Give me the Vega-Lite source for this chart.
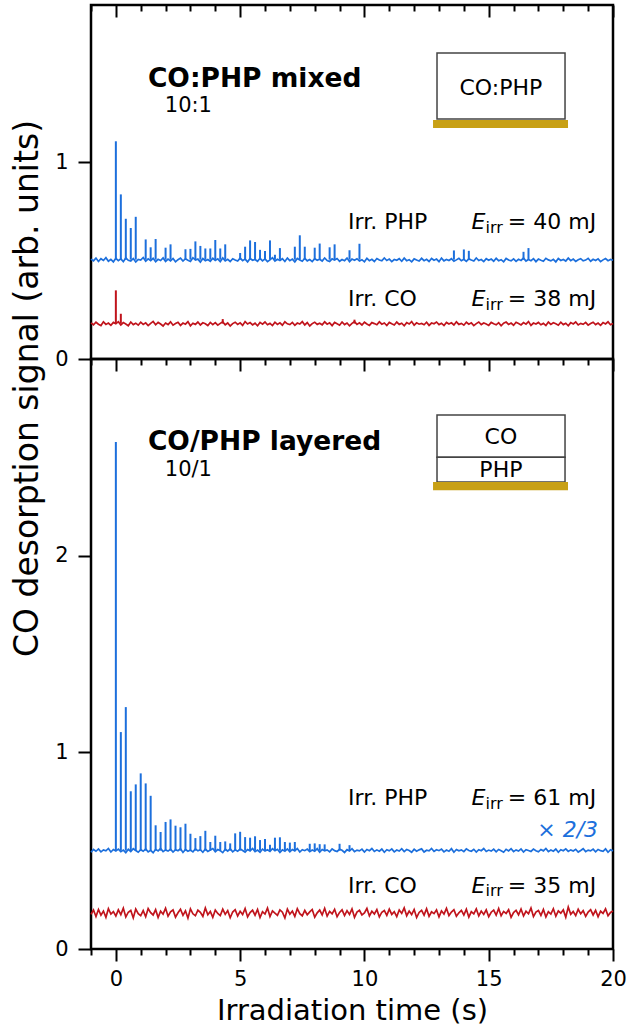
{
"$schema": "https://vega.github.io/schema/vega-lite/v6.json",
"background": "white",
"padding": {"left": 10, "top": 2, "right": 14, "bottom": 2},
"bounds": "flush",
"spacing": 0,
"config": {
  "font": "DejaVu Sans",
  "view": {"stroke": "black", "strokeWidth": 2.5},
  "axis": {"domain": false, "grid": false, "tickColor": "black", "tickWidth": 2, "labelColor": "black", "labelFontSize": 21, "labelFont": "DejaVu Sans", "titleFont": "DejaVu Sans", "titleColor": "black", "titleFontWeight": "normal", "labelOverlap": false, "labelFlush": false}
},
"datasets": {
"noise": [
{"t":-1.0,"a":0.508,"b":0.184,"c":0.492,"d":0.176},
{"t":-0.9,"a":0.499,"b":0.174,"c":0.506,"d":0.198},
{"t":-0.8,"a":0.513,"b":0.187,"c":0.497,"d":0.165},
{"t":-0.7,"a":0.496,"b":0.177,"c":0.509,"d":0.201},
{"t":-0.6,"a":0.510,"b":0.170,"c":0.494,"d":0.172},
{"t":-0.5,"a":0.501,"b":0.189,"c":0.504,"d":0.193},
{"t":-0.4,"a":0.515,"b":0.176,"c":0.499,"d":0.161},
{"t":-0.3,"a":0.497,"b":0.183,"c":0.511,"d":0.205},
{"t":-0.2,"a":0.507,"b":0.171,"c":0.493,"d":0.178},
{"t":-0.1,"a":0.494,"b":0.186,"c":0.506,"d":0.190},
{"t":0.0,"a":0.512,"b":0.179,"c":0.498,"d":0.168},
{"t":0.1,"a":0.500,"b":0.190,"c":0.508,"d":0.199},
{"t":0.2,"a":0.509,"b":0.173,"c":0.495,"d":0.175},
{"t":0.3,"a":0.495,"b":0.185,"c":0.503,"d":0.208},
{"t":0.4,"a":0.514,"b":0.178,"c":0.490,"d":0.163},
{"t":0.5,"a":0.502,"b":0.169,"c":0.507,"d":0.187},
{"t":0.6,"a":0.498,"b":0.188,"c":0.496,"d":0.196},
{"t":0.7,"a":0.511,"b":0.175,"c":0.510,"d":0.158},
{"t":0.8,"a":0.493,"b":0.182,"c":0.501,"d":0.203},
{"t":0.9,"a":0.506,"b":0.172,"c":0.492,"d":0.180},
{"t":1.0,"a":0.503,"b":0.187,"c":0.505,"d":0.170},
{"t":1.1,"a":0.516,"b":0.176,"c":0.497,"d":0.195},
{"t":1.2,"a":0.497,"b":0.184,"c":0.509,"d":0.164},
{"t":1.3,"a":0.509,"b":0.170,"c":0.494,"d":0.206},
{"t":1.4,"a":0.500,"b":0.181,"c":0.502,"d":0.185},
{"t":1.5,"a":0.512,"b":0.191,"c":0.490,"d":0.173},
{"t":1.6,"a":0.495,"b":0.174,"c":0.507,"d":0.200},
{"t":1.7,"a":0.507,"b":0.186,"c":0.499,"d":0.160},
{"t":1.8,"a":0.501,"b":0.178,"c":0.511,"d":0.192},
{"t":1.9,"a":0.514,"b":0.168,"c":0.495,"d":0.177},
{"t":2.0,"a":0.496,"b":0.183,"c":0.504,"d":0.207},
{"t":2.1,"a":0.508,"b":0.175,"c":0.498,"d":0.167},
{"t":2.2,"a":0.499,"b":0.189,"c":0.508,"d":0.189},
{"t":2.3,"a":0.511,"b":0.172,"c":0.493,"d":0.199},
{"t":2.4,"a":0.494,"b":0.180,"c":0.505,"d":0.162},
{"t":2.5,"a":0.505,"b":0.187,"c":0.500,"d":0.184},
{"t":2.6,"a":0.513,"b":0.171,"c":0.510,"d":0.202},
{"t":2.7,"a":0.498,"b":0.183,"c":0.491,"d":0.171},
{"t":2.8,"a":0.510,"b":0.177,"c":0.506,"d":0.194},
{"t":2.9,"a":0.502,"b":0.190,"c":0.497,"d":0.157},
{"t":3.0,"a":0.496,"b":0.169,"c":0.503,"d":0.204},
{"t":3.1,"a":0.515,"b":0.182,"c":0.494,"d":0.179},
{"t":3.2,"a":0.503,"b":0.176,"c":0.509,"d":0.169},
{"t":3.3,"a":0.508,"b":0.188,"c":0.499,"d":0.197},
{"t":3.4,"a":0.493,"b":0.173,"c":0.505,"d":0.186},
{"t":3.5,"a":0.511,"b":0.184,"c":0.492,"d":0.166},
{"t":3.6,"a":0.500,"b":0.179,"c":0.508,"d":0.209},
{"t":3.7,"a":0.506,"b":0.170,"c":0.496,"d":0.174},
{"t":3.8,"a":0.497,"b":0.186,"c":0.503,"d":0.191},
{"t":3.9,"a":0.512,"b":0.175,"c":0.511,"d":0.161},
{"t":4.0,"a":0.501,"b":0.185,"c":0.495,"d":0.198},
{"t":4.1,"a":0.509,"b":0.172,"c":0.506,"d":0.181},
{"t":4.2,"a":0.495,"b":0.181,"c":0.500,"d":0.170},
{"t":4.3,"a":0.514,"b":0.189,"c":0.490,"d":0.203},
{"t":4.4,"a":0.499,"b":0.174,"c":0.507,"d":0.176},
{"t":4.5,"a":0.507,"b":0.183,"c":0.498,"d":0.195},
{"t":4.6,"a":0.496,"b":0.168,"c":0.510,"d":0.159},
{"t":4.7,"a":0.510,"b":0.180,"c":0.494,"d":0.188},
{"t":4.8,"a":0.503,"b":0.187,"c":0.504,"d":0.200},
{"t":4.9,"a":0.498,"b":0.176,"c":0.497,"d":0.168},
{"t":5.0,"a":0.513,"b":0.184,"c":0.509,"d":0.192},
{"t":5.1,"a":0.500,"b":0.171,"c":0.501,"d":0.175},
{"t":5.2,"a":0.508,"b":0.190,"c":0.493,"d":0.206},
{"t":5.3,"a":0.494,"b":0.178,"c":0.506,"d":0.163},
{"t":5.4,"a":0.511,"b":0.185,"c":0.499,"d":0.185},
{"t":5.5,"a":0.502,"b":0.173,"c":0.511,"d":0.197},
{"t":5.6,"a":0.506,"b":0.182,"c":0.495,"d":0.172},
{"t":5.7,"a":0.497,"b":0.169,"c":0.503,"d":0.201},
{"t":5.8,"a":0.512,"b":0.186,"c":0.492,"d":0.160},
{"t":5.9,"a":0.499,"b":0.177,"c":0.508,"d":0.190},
{"t":6.0,"a":0.509,"b":0.188,"c":0.498,"d":0.178},
{"t":6.1,"a":0.495,"b":0.174,"c":0.505,"d":0.208},
{"t":6.2,"a":0.504,"b":0.181,"c":0.496,"d":0.165},
{"t":6.3,"a":0.515,"b":0.170,"c":0.510,"d":0.194},
{"t":6.4,"a":0.498,"b":0.187,"c":0.500,"d":0.182},
{"t":6.5,"a":0.507,"b":0.176,"c":0.507,"d":0.171},
{"t":6.6,"a":0.501,"b":0.184,"c":0.491,"d":0.199},
{"t":6.7,"a":0.510,"b":0.172,"c":0.504,"d":0.187},
{"t":6.8,"a":0.496,"b":0.189,"c":0.497,"d":0.158},
{"t":6.9,"a":0.513,"b":0.179,"c":0.509,"d":0.203},
{"t":7.0,"a":0.500,"b":0.175,"c":0.494,"d":0.177},
{"t":7.1,"a":0.508,"b":0.186,"c":0.506,"d":0.193},
{"t":7.2,"a":0.494,"b":0.171,"c":0.499,"d":0.166},
{"t":7.3,"a":0.511,"b":0.183,"c":0.511,"d":0.205},
{"t":7.4,"a":0.503,"b":0.178,"c":0.493,"d":0.180},
{"t":7.5,"a":0.497,"b":0.190,"c":0.505,"d":0.169},
{"t":7.6,"a":0.512,"b":0.173,"c":0.500,"d":0.196},
{"t":7.7,"a":0.499,"b":0.185,"c":0.508,"d":0.174},
{"t":7.8,"a":0.506,"b":0.168,"c":0.495,"d":0.189},
{"t":7.9,"a":0.495,"b":0.180,"c":0.503,"d":0.201},
{"t":8.0,"a":0.510,"b":0.187,"c":0.497,"d":0.162},
{"t":8.1,"a":0.502,"b":0.176,"c":0.510,"d":0.184},
{"t":8.2,"a":0.507,"b":0.182,"c":0.492,"d":0.198},
{"t":8.3,"a":0.498,"b":0.174,"c":0.506,"d":0.173},
{"t":8.4,"a":0.514,"b":0.189,"c":0.499,"d":0.207},
{"t":8.5,"a":0.501,"b":0.177,"c":0.504,"d":0.167},
{"t":8.6,"a":0.496,"b":0.184,"c":0.494,"d":0.191},
{"t":8.7,"a":0.509,"b":0.170,"c":0.509,"d":0.179},
{"t":8.8,"a":0.503,"b":0.186,"c":0.500,"d":0.202},
{"t":8.9,"a":0.511,"b":0.179,"c":0.496,"d":0.164},
{"t":9.0,"a":0.497,"b":0.172,"c":0.507,"d":0.186},
{"t":9.1,"a":0.506,"b":0.188,"c":0.502,"d":0.199},
{"t":9.2,"a":0.500,"b":0.175,"c":0.491,"d":0.170},
{"t":9.3,"a":0.513,"b":0.183,"c":0.505,"d":0.195},
{"t":9.4,"a":0.495,"b":0.169,"c":0.498,"d":0.176},
{"t":9.5,"a":0.508,"b":0.181,"c":0.510,"d":0.204},
{"t":9.6,"a":0.502,"b":0.190,"c":0.495,"d":0.161},
{"t":9.7,"a":0.510,"b":0.176,"c":0.503,"d":0.188},
{"t":9.8,"a":0.498,"b":0.184,"c":0.499,"d":0.197},
{"t":9.9,"a":0.505,"b":0.173,"c":0.508,"d":0.173},
{"t":10.0,"a":0.494,"b":0.187,"c":0.493,"d":0.183},
{"t":10.1,"a":0.512,"b":0.178,"c":0.506,"d":0.206},
{"t":10.2,"a":0.500,"b":0.171,"c":0.500,"d":0.168},
{"t":10.3,"a":0.507,"b":0.185,"c":0.511,"d":0.192},
{"t":10.4,"a":0.496,"b":0.180,"c":0.496,"d":0.178},
{"t":10.5,"a":0.511,"b":0.174,"c":0.504,"d":0.200},
{"t":10.6,"a":0.503,"b":0.189,"c":0.497,"d":0.163},
{"t":10.7,"a":0.499,"b":0.177,"c":0.508,"d":0.187},
{"t":10.8,"a":0.514,"b":0.183,"c":0.492,"d":0.196},
{"t":10.9,"a":0.501,"b":0.170,"c":0.505,"d":0.171},
{"t":11.0,"a":0.508,"b":0.186,"c":0.499,"d":0.203},
{"t":11.1,"a":0.495,"b":0.179,"c":0.509,"d":0.176},
{"t":11.2,"a":0.506,"b":0.173,"c":0.494,"d":0.190},
{"t":11.3,"a":0.502,"b":0.188,"c":0.503,"d":0.165},
{"t":11.4,"a":0.510,"b":0.176,"c":0.498,"d":0.198},
{"t":11.5,"a":0.497,"b":0.182,"c":0.510,"d":0.181},
{"t":11.6,"a":0.513,"b":0.169,"c":0.495,"d":0.209},
{"t":11.7,"a":0.500,"b":0.185,"c":0.506,"d":0.169},
{"t":11.8,"a":0.505,"b":0.178,"c":0.501,"d":0.193},
{"t":11.9,"a":0.494,"b":0.190,"c":0.492,"d":0.175},
{"t":12.0,"a":0.509,"b":0.172,"c":0.507,"d":0.201},
{"t":12.1,"a":0.503,"b":0.184,"c":0.497,"d":0.160},
{"t":12.2,"a":0.498,"b":0.177,"c":0.504,"d":0.186},
{"t":12.3,"a":0.512,"b":0.181,"c":0.509,"d":0.197},
{"t":12.4,"a":0.500,"b":0.174,"c":0.493,"d":0.172},
{"t":12.5,"a":0.507,"b":0.187,"c":0.502,"d":0.205},
{"t":12.6,"a":0.496,"b":0.171,"c":0.499,"d":0.166},
{"t":12.7,"a":0.511,"b":0.183,"c":0.511,"d":0.189},
{"t":12.8,"a":0.502,"b":0.179,"c":0.496,"d":0.180},
{"t":12.9,"a":0.508,"b":0.188,"c":0.505,"d":0.199},
{"t":13.0,"a":0.495,"b":0.175,"c":0.500,"d":0.163},
{"t":13.1,"a":0.513,"b":0.182,"c":0.508,"d":0.194},
{"t":13.2,"a":0.499,"b":0.170,"c":0.494,"d":0.178},
{"t":13.3,"a":0.506,"b":0.186,"c":0.503,"d":0.207},
{"t":13.4,"a":0.501,"b":0.178,"c":0.497,"d":0.170},
{"t":13.5,"a":0.510,"b":0.184,"c":0.510,"d":0.188},
{"t":13.6,"a":0.497,"b":0.173,"c":0.492,"d":0.200},
{"t":13.7,"a":0.504,"b":0.189,"c":0.506,"d":0.167},
{"t":13.8,"a":0.512,"b":0.176,"c":0.499,"d":0.184},
{"t":13.9,"a":0.500,"b":0.181,"c":0.504,"d":0.196},
{"t":14.0,"a":0.507,"b":0.172,"c":0.495,"d":0.173},
{"t":14.1,"a":0.496,"b":0.187,"c":0.509,"d":0.202},
{"t":14.2,"a":0.509,"b":0.177,"c":0.501,"d":0.162},
{"t":14.3,"a":0.503,"b":0.184,"c":0.497,"d":0.190},
{"t":14.4,"a":0.498,"b":0.170,"c":0.507,"d":0.179},
{"t":14.5,"a":0.514,"b":0.180,"c":0.493,"d":0.204},
{"t":14.6,"a":0.501,"b":0.188,"c":0.505,"d":0.168},
{"t":14.7,"a":0.506,"b":0.175,"c":0.500,"d":0.193},
{"t":14.8,"a":0.495,"b":0.183,"c":0.511,"d":0.176},
{"t":14.9,"a":0.510,"b":0.178,"c":0.496,"d":0.199},
{"t":15.0,"a":0.502,"b":0.171,"c":0.503,"d":0.164},
{"t":15.1,"a":0.508,"b":0.186,"c":0.498,"d":0.187},
{"t":15.2,"a":0.497,"b":0.179,"c":0.508,"d":0.198},
{"t":15.3,"a":0.512,"b":0.174,"c":0.494,"d":0.172},
{"t":15.4,"a":0.500,"b":0.185,"c":0.506,"d":0.206},
{"t":15.5,"a":0.505,"b":0.169,"c":0.500,"d":0.169},
{"t":15.6,"a":0.494,"b":0.182,"c":0.492,"d":0.191},
{"t":15.7,"a":0.511,"b":0.188,"c":0.507,"d":0.181},
{"t":15.8,"a":0.503,"b":0.176,"c":0.499,"d":0.200},
{"t":15.9,"a":0.499,"b":0.183,"c":0.510,"d":0.161},
{"t":16.0,"a":0.509,"b":0.172,"c":0.495,"d":0.185},
{"t":16.1,"a":0.496,"b":0.187,"c":0.504,"d":0.197},
{"t":16.2,"a":0.507,"b":0.180,"c":0.498,"d":0.174},
{"t":16.3,"a":0.501,"b":0.173,"c":0.509,"d":0.203},
{"t":16.4,"a":0.513,"b":0.185,"c":0.493,"d":0.168},
{"t":16.5,"a":0.498,"b":0.177,"c":0.505,"d":0.192},
{"t":16.6,"a":0.506,"b":0.190,"c":0.501,"d":0.179},
{"t":16.7,"a":0.500,"b":0.171,"c":0.496,"d":0.208},
{"t":16.8,"a":0.510,"b":0.183,"c":0.508,"d":0.165},
{"t":16.9,"a":0.495,"b":0.178,"c":0.500,"d":0.188},
{"t":17.0,"a":0.508,"b":0.186,"c":0.494,"d":0.196},
{"t":17.1,"a":0.502,"b":0.174,"c":0.506,"d":0.171},
{"t":17.2,"a":0.497,"b":0.181,"c":0.499,"d":0.201},
{"t":17.3,"a":0.512,"b":0.170,"c":0.511,"d":0.163},
{"t":17.4,"a":0.504,"b":0.188,"c":0.495,"d":0.190},
{"t":17.5,"a":0.499,"b":0.176,"c":0.503,"d":0.178},
{"t":17.6,"a":0.507,"b":0.184,"c":0.497,"d":0.205},
{"t":17.7,"a":0.494,"b":0.179,"c":0.508,"d":0.167},
{"t":17.8,"a":0.511,"b":0.172,"c":0.492,"d":0.194},
{"t":17.9,"a":0.501,"b":0.187,"c":0.505,"d":0.182},
{"t":18.0,"a":0.506,"b":0.175,"c":0.500,"d":0.199},
{"t":18.1,"a":0.498,"b":0.182,"c":0.509,"d":0.162},
{"t":18.2,"a":0.513,"b":0.169,"c":0.496,"d":0.213},
{"t":18.3,"a":0.500,"b":0.185,"c":0.504,"d":0.176},
{"t":18.4,"a":0.508,"b":0.178,"c":0.498,"d":0.191},
{"t":18.5,"a":0.496,"b":0.188,"c":0.507,"d":0.170},
{"t":18.6,"a":0.505,"b":0.173,"c":0.493,"d":0.202},
{"t":18.7,"a":0.510,"b":0.181,"c":0.501,"d":0.179},
{"t":18.8,"a":0.499,"b":0.176,"c":0.510,"d":0.195},
{"t":18.9,"a":0.503,"b":0.186,"c":0.495,"d":0.166},
{"t":19.0,"a":0.512,"b":0.172,"c":0.503,"d":0.188},
{"t":19.1,"a":0.497,"b":0.180,"c":0.499,"d":0.200},
{"t":19.2,"a":0.507,"b":0.187,"c":0.508,"d":0.173},
{"t":19.3,"a":0.501,"b":0.175,"c":0.494,"d":0.197},
{"t":19.4,"a":0.509,"b":0.183,"c":0.506,"d":0.164},
{"t":19.5,"a":0.495,"b":0.171,"c":0.500,"d":0.192},
{"t":19.6,"a":0.504,"b":0.185,"c":0.497,"d":0.181},
{"t":19.7,"a":0.511,"b":0.178,"c":0.509,"d":0.204},
{"t":19.8,"a":0.500,"b":0.189,"c":0.492,"d":0.169},
{"t":19.9,"a":0.506,"b":0.174,"c":0.505,"d":0.186},
{"t":20.0,"a":0.502,"b":0.181,"c":0.499,"d":0.193}
],
"spTopPHP": [
{"t":0,"v":0.505,"v2":1.107},{"t":0.2,"v":0.505,"v2":0.837},{"t":0.4,"v":0.505,"v2":0.713},{"t":0.6,"v":0.505,"v2":0.666},{"t":0.8,"v":0.505,"v2":0.723},
{"t":1.2,"v":0.505,"v2":0.608},{"t":1.4,"v":0.505,"v2":0.568},{"t":1.6,"v":0.505,"v2":0.61},{"t":2.0,"v":0.505,"v2":0.566},{"t":2.2,"v":0.505,"v2":0.583},
{"t":2.8,"v":0.505,"v2":0.558},{"t":3.0,"v":0.505,"v2":0.56},{"t":3.2,"v":0.505,"v2":0.598},{"t":3.4,"v":0.505,"v2":0.575},{"t":3.6,"v":0.505,"v2":0.562},
{"t":3.8,"v":0.505,"v2":0.562},{"t":4.0,"v":0.505,"v2":0.605},{"t":4.2,"v":0.505,"v2":0.562},{"t":4.4,"v":0.505,"v2":0.583},{"t":5.0,"v":0.505,"v2":0.539},
{"t":5.2,"v":0.505,"v2":0.571},{"t":5.4,"v":0.505,"v2":0.603},{"t":5.6,"v":0.505,"v2":0.595},{"t":5.8,"v":0.505,"v2":0.555},{"t":6.0,"v":0.505,"v2":0.549},
{"t":6.2,"v":0.505,"v2":0.603},{"t":6.4,"v":0.505,"v2":0.53},{"t":6.6,"v":0.505,"v2":0.564},{"t":7.2,"v":0.505,"v2":0.571},{"t":7.4,"v":0.505,"v2":0.629},
{"t":7.6,"v":0.505,"v2":0.571},{"t":8.0,"v":0.505,"v2":0.566},{"t":8.2,"v":0.505,"v2":0.587},{"t":8.6,"v":0.505,"v2":0.568},{"t":8.8,"v":0.505,"v2":0.583},
{"t":9.4,"v":0.505,"v2":0.553},{"t":9.8,"v":0.505,"v2":0.586},{"t":13.6,"v":0.505,"v2":0.552},{"t":14.0,"v":0.505,"v2":0.557},{"t":14.2,"v":0.505,"v2":0.55},
{"t":16.4,"v":0.505,"v2":0.545},{"t":16.6,"v":0.505,"v2":0.564}
],
"spTopCO": [
{"t":0,"v":0.18,"v2":0.349},{"t":0.2,"v":0.18,"v2":0.23},{"t":4.3,"v":0.18,"v2":0.203},{"t":9.6,"v":0.18,"v2":0.2}
],
"spBotPHP": [
{"t":0,"v":0.5,"v2":2.578},{"t":0.2,"v":0.5,"v2":1.103},{"t":0.4,"v":0.5,"v2":1.23},{"t":0.6,"v":0.5,"v2":0.802},{"t":0.8,"v":0.5,"v2":0.837},
{"t":1.0,"v":0.5,"v2":0.893},{"t":1.2,"v":0.5,"v2":0.842},{"t":1.4,"v":0.5,"v2":0.779},{"t":1.6,"v":0.5,"v2":0.629},{"t":1.8,"v":0.5,"v2":0.595},
{"t":2.0,"v":0.5,"v2":0.646},{"t":2.2,"v":0.5,"v2":0.659},{"t":2.4,"v":0.5,"v2":0.627},{"t":2.6,"v":0.5,"v2":0.619},{"t":2.8,"v":0.5,"v2":0.637},
{"t":3.0,"v":0.5,"v2":0.586},{"t":3.2,"v":0.5,"v2":0.564},{"t":3.4,"v":0.5,"v2":0.574},{"t":3.6,"v":0.5,"v2":0.601},{"t":3.8,"v":0.5,"v2":0.544},
{"t":4.0,"v":0.5,"v2":0.576},{"t":4.2,"v":0.5,"v2":0.544},{"t":4.4,"v":0.5,"v2":0.547},{"t":4.6,"v":0.5,"v2":0.537},{"t":4.8,"v":0.5,"v2":0.588},
{"t":5.0,"v":0.5,"v2":0.596},{"t":5.2,"v":0.5,"v2":0.569},{"t":5.4,"v":0.5,"v2":0.566},{"t":5.6,"v":0.5,"v2":0.573},{"t":5.8,"v":0.5,"v2":0.554},
{"t":6.0,"v":0.5,"v2":0.559},{"t":6.2,"v":0.5,"v2":0.53},{"t":6.4,"v":0.5,"v2":0.566},{"t":6.6,"v":0.5,"v2":0.568},{"t":6.8,"v":0.5,"v2":0.544},
{"t":7.0,"v":0.5,"v2":0.541},{"t":7.2,"v":0.5,"v2":0.544},{"t":7.8,"v":0.5,"v2":0.535},{"t":8.0,"v":0.5,"v2":0.537},{"t":8.2,"v":0.5,"v2":0.533},
{"t":8.4,"v":0.5,"v2":0.532},{"t":9.0,"v":0.5,"v2":0.535},{"t":9.4,"v":0.5,"v2":0.528}
]
},
"vconcat": [
{
 "width": 522, "height": 354,
 "resolve": {"axis": {"x": "independent"}},
 "layer": [
  {
   "encoding": {
    "x": {"field": "t", "type": "quantitative", "scale": {"domain": [-1, 20], "nice": false, "zero": false},
      "axis": {"values": [-1,0,1,2,3,4,5,6,7,8,9,10,11,12,13,14,15,16,17,18,19,20], "labels": false, "title": null, "tickSize": {"condition": {"test": "datum.value % 5 === 0", "value": 12}, "value": 6}}},
    "y": {"field": "v", "type": "quantitative", "scale": {"domain": [0, 1.8], "nice": false, "zero": false},
      "axis": {"values": [0, 1], "tickSize": 13, "labelPadding": 10, "title": null}}
   },
   "layer": [
    {"data": {"name": "noise"}, "transform": [{"fold": ["a", "b"], "as": ["s", "v"]}],
     "mark": {"type": "line", "strokeWidth": 1.7},
     "encoding": {"color": {"field": "s", "type": "nominal", "scale": {"domain": ["a", "b"], "range": ["#1c6fdc", "#c0141c"]}, "legend": null}}},
    {"data": {"name": "spTopPHP"}, "mark": {"type": "rule", "color": "#1c6fdc", "strokeWidth": 2}, "encoding": {"y2": {"field": "v2"}}},
    {"data": {"name": "spTopCO"}, "mark": {"type": "rule", "color": "#c0141c", "strokeWidth": 2}, "encoding": {"y2": {"field": "v2"}}},
    {"data": {"values": [{"t": 12.92, "t2": 18.07, "v": 1.22, "v2": 1.556}]},
     "mark": {"type": "rect", "fill": "white", "stroke": "#444444", "strokeWidth": 1.5},
     "encoding": {"x2": {"field": "t2"}, "y2": {"field": "v2"}}},
    {"data": {"values": [{"t": 12.76, "t2": 18.19, "v": 1.174, "v2": 1.215}]},
     "mark": {"type": "rect", "fill": "#c8a015"},
     "encoding": {"x2": {"field": "t2"}, "y2": {"field": "v2"}}},
    {"data": {"values": [{"t": 1.29, "v": 1.383, "label": "CO:PHP mixed"}]},
     "mark": {"type": "text", "align": "left", "baseline": "alphabetic", "fontSize": 26.5, "fontWeight": "bold", "color": "black"},
     "encoding": {"text": {"field": "label"}}},
    {"data": {"values": [{"t": 1.97, "v": 1.256, "label": "10:1"}]},
     "mark": {"type": "text", "align": "left", "baseline": "alphabetic", "fontSize": 21, "color": "black"},
     "encoding": {"text": {"field": "label"}}},
    {"data": {"values": [{"t": 9.34, "v": 0.662, "label": "Irr. PHP"}, {"t": 9.34, "v": 0.268, "label": "Irr. CO"}, {"t": 15.77, "v": 0.662, "label": "= 40 mJ"}, {"t": 15.77, "v": 0.268, "label": "= 38 mJ"}]},
     "mark": {"type": "text", "align": "left", "baseline": "alphabetic", "fontSize": 22, "color": "black"},
     "encoding": {"text": {"field": "label"}}},
    {"data": {"values": [{"t": 14.31, "v": 0.662, "label": "E"}, {"t": 14.31, "v": 0.268, "label": "E"}]},
     "mark": {"type": "text", "align": "left", "baseline": "alphabetic", "fontSize": 22, "fontStyle": "italic", "color": "black"},
     "encoding": {"text": {"field": "label"}}},
    {"data": {"values": [{"t": 14.87, "v": 0.643, "label": "irr"}, {"t": 14.87, "v": 0.249, "label": "irr"}]},
     "mark": {"type": "text", "align": "left", "baseline": "alphabetic", "fontSize": 16, "color": "black"},
     "encoding": {"text": {"field": "label"}}},
    {"data": {"values": [{"t": 15.49, "v": 1.344, "label": "CO:PHP"}]},
     "mark": {"type": "text", "align": "center", "baseline": "alphabetic", "fontSize": 22, "color": "black"},
     "encoding": {"text": {"field": "label"}}}
   ]
  },
  {"data": {"values": [{"t": 0}]},
   "mark": {"type": "rule", "opacity": 0},
   "encoding": {
    "x": {"field": "t", "type": "quantitative", "scale": {"domain": [-1, 20], "nice": false, "zero": false},
      "axis": {"orient": "top", "values": [-1,0,1,2,3,4,5,6,7,8,9,10,11,12,13,14,15,16,17,18,19,20], "labels": false, "title": null, "tickSize": {"condition": {"test": "datum.value % 5 === 0", "value": -12}, "value": -6}}}}}
 ]
},
{
 "width": 522, "height": 590,
 "encoding": {
  "x": {"field": "t", "type": "quantitative", "scale": {"domain": [-1, 20], "nice": false, "zero": false},
    "axis": {"values": [-1,0,1,2,3,4,5,6,7,8,9,10,11,12,13,14,15,16,17,18,19,20], "labelExpr": "datum.value % 5 === 0 ? datum.label : ''", "labelPadding": 7, "title": "Irradiation time (s)", "titleFontSize": 29, "titlePadding": 7, "tickSize": {"condition": {"test": "datum.value % 5 === 0", "value": 12}, "value": 6}}},
  "y": {"field": "v", "type": "quantitative", "scale": {"domain": [0, 3], "nice": false, "zero": false},
    "axis": {"values": [0, 1, 2], "tickSize": 13, "labelPadding": 10, "title": "CO desorption signal (arb. units)", "titleFontSize": 33, "titlePadding": 10, "titleY": 29}}
 },
 "layer": [
  {"data": {"name": "noise"}, "transform": [{"fold": ["c", "d"], "as": ["s", "v"]}],
   "mark": {"type": "line", "strokeWidth": 1.7},
   "encoding": {"color": {"field": "s", "type": "nominal", "scale": {"domain": ["c", "d"], "range": ["#1c6fdc", "#c0141c"]}, "legend": null}}},
  {"data": {"name": "spBotPHP"}, "mark": {"type": "rule", "color": "#1c6fdc", "strokeWidth": 2}, "encoding": {"y2": {"field": "v2"}}},
  {"data": {"values": [{"t": 12.92, "t2": 18.07, "v": 2.501, "v2": 2.715}, {"t": 12.92, "t2": 18.07, "v": 2.374, "v2": 2.501}]},
   "mark": {"type": "rect", "fill": "white", "stroke": "#444444", "strokeWidth": 1.5},
   "encoding": {"x2": {"field": "t2"}, "y2": {"field": "v2"}}},
  {"data": {"values": [{"t": 12.76, "t2": 18.19, "v": 2.333, "v2": 2.374}]},
   "mark": {"type": "rect", "fill": "#c8a015"},
   "encoding": {"x2": {"field": "t2"}, "y2": {"field": "v2"}}},
  {"data": {"values": [{"t": 1.29, "v": 2.535, "label": "CO/PHP layered"}]},
   "mark": {"type": "text", "align": "left", "baseline": "alphabetic", "fontSize": 26.5, "fontWeight": "bold", "color": "black"},
   "encoding": {"text": {"field": "label"}}},
  {"data": {"values": [{"t": 1.97, "v": 2.405, "label": "10/1"}]},
   "mark": {"type": "text", "align": "left", "baseline": "alphabetic", "fontSize": 21, "color": "black"},
   "encoding": {"text": {"field": "label"}}},
  {"data": {"values": [{"t": 9.34, "v": 0.731, "label": "Irr. PHP"}, {"t": 9.34, "v": 0.286, "label": "Irr. CO"}, {"t": 15.77, "v": 0.731, "label": "= 61 mJ"}, {"t": 15.77, "v": 0.286, "label": "= 35 mJ"}]},
   "mark": {"type": "text", "align": "left", "baseline": "alphabetic", "fontSize": 22, "color": "black"},
   "encoding": {"text": {"field": "label"}}},
  {"data": {"values": [{"t": 14.31, "v": 0.731, "label": "E"}, {"t": 14.31, "v": 0.286, "label": "E"}]},
   "mark": {"type": "text", "align": "left", "baseline": "alphabetic", "fontSize": 22, "fontStyle": "italic", "color": "black"},
   "encoding": {"text": {"field": "label"}}},
  {"data": {"values": [{"t": 14.87, "v": 0.712, "label": "irr"}, {"t": 14.87, "v": 0.267, "label": "irr"}]},
   "mark": {"type": "text", "align": "left", "baseline": "alphabetic", "fontSize": 16, "color": "black"},
   "encoding": {"text": {"field": "label"}}},
  {"data": {"values": [{"t": 19.4, "v": 0.569, "label": "× 2/3"}]},
   "mark": {"type": "text", "align": "right", "baseline": "alphabetic", "fontSize": 22, "fontStyle": "italic", "color": "#1c6fdc"},
   "encoding": {"text": {"field": "label"}}},
  {"data": {"values": [{"t": 15.49, "v": 2.569, "label": "CO"}, {"t": 15.49, "v": 2.4, "label": "PHP"}]},
   "mark": {"type": "text", "align": "center", "baseline": "alphabetic", "fontSize": 22, "color": "black"},
   "encoding": {"text": {"field": "label"}}}
 ]
}
]
}
